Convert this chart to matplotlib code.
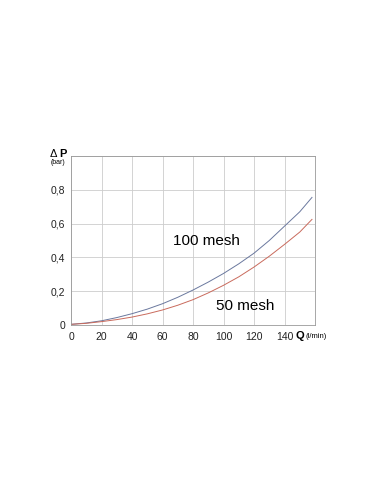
import matplotlib

matplotlib.use("Agg")
import matplotlib.pyplot as plt

plt.rcParams["font.family"] = ["Liberation Sans", "DejaVu Sans"]

flow = [0, 10, 20, 30, 40, 50, 60, 70, 80, 90, 100, 110, 120, 130, 140, 150, 158]
dp_100_mesh = [0.004, 0.012, 0.025, 0.044, 0.067, 0.094, 0.126, 0.164, 0.207, 0.254,
               0.305, 0.362, 0.425, 0.50, 0.585, 0.67, 0.755]
dp_50_mesh = [0.004, 0.01, 0.02, 0.032, 0.047, 0.066, 0.089, 0.117, 0.15, 0.19,
              0.235, 0.285, 0.343, 0.407, 0.477, 0.55, 0.625]

x_ticks = [0, 20, 40, 60, 80, 100, 120, 140, 160]
x_labels = ["0", "20", "40", "60", "80", "100", "120", "140", ""]
y_ticks = [0, 0.2, 0.4, 0.6, 0.8, 1.0]
y_labels = ["0", "0,2", "0,4", "0,6", "0,8", ""]

fig = plt.figure(figsize=(3.81, 4.92), dpi=100)
ax = fig.add_axes([0.1864, 0.3394, 0.6404, 0.3435])

ax.plot(flow, dp_100_mesh, color="#6a789e", lw=0.7)
ax.plot(flow, dp_50_mesh, color="#c96a5c", lw=0.7)

ax.set_xlim(0, 160)
ax.set_ylim(0, 1.0)
ax.set_xticks(x_ticks)
ax.set_xticklabels(x_labels)
ax.set_yticks(y_ticks)
ax.set_yticklabels(y_labels)
ax.tick_params(length=0, labelsize=7.5, colors="#222222")
ax.tick_params(axis="x", pad=5)
ax.tick_params(axis="y", pad=4)
ax.grid(True, color="#cccccc", lw=0.6)
for spine in ax.spines.values():
    spine.set_color("#999999")
    spine.set_linewidth(0.6)

ax.text(0.557, 0.50, "100 mesh", transform=ax.transAxes, fontsize=11, ha="center", va="center")
ax.text(0.713, 0.11, "50 mesh", transform=ax.transAxes, fontsize=11, ha="center", va="center")

fig.text(50 / 381, 1 - 157 / 492, "Δ", fontsize=8, ha="left", va="baseline")
fig.text(59 / 381, 1 - 157 / 492, "P", fontsize=8, fontweight="bold", ha="left", va="baseline")
fig.text(51 / 381, 1 - 162 / 492, "(bar)", fontsize=5, ha="left", va="center")
fig.text(296 / 381, 1 - 336 / 492, "Q", fontsize=8, fontweight="bold", ha="left", va="center")
fig.text(305 / 381, 1 - 336 / 492, "(l/min)", fontsize=5.5, ha="left", va="center")

fig.savefig("out.png", dpi=100)
